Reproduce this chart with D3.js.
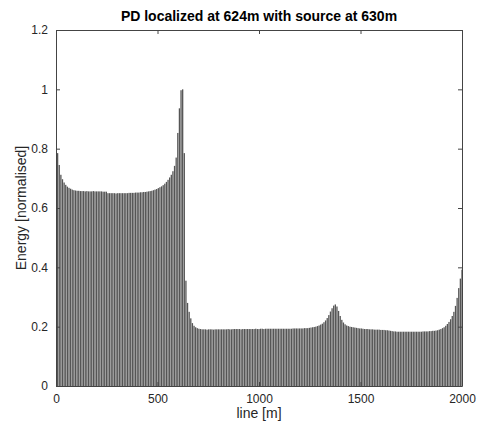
<!DOCTYPE html>
<html>
<head>
<meta charset="utf-8">
<script src="https://cdn.jsdelivr.net/npm/d3@7"></script>
<style>
  html, body { margin: 0; padding: 0; background: #fff; }
  svg { display: block; font-family: "Liberation Sans", Arial, Helvetica, sans-serif; }
</style>
</head>
<body>
<svg id="chart" width="485" height="428"></svg>
<script>
// Line positions are sampled every 8 m, starting at 8 m and ending at 2000 m.
const firstPosition = 8;
const positionStep = 8;

// Normalised energy for each position along the line.
const energy = [
  0.785, 0.745, 0.712, 0.697, 0.686, 0.678, 0.672, 0.668, 0.665, 0.662,
  0.660, 0.659, 0.658, 0.658, 0.657, 0.657, 0.657, 0.656, 0.657, 0.656,
  0.656, 0.656, 0.657, 0.656, 0.656, 0.656, 0.656, 0.656, 0.655, 0.655,
  0.655, 0.650, 0.650, 0.650, 0.650, 0.650, 0.649, 0.650, 0.650, 0.650,
  0.650, 0.650, 0.650, 0.650, 0.651, 0.651, 0.651, 0.651, 0.652, 0.652,
  0.652, 0.653, 0.653, 0.654, 0.654, 0.655, 0.656, 0.657, 0.658, 0.660,
  0.662, 0.664, 0.667, 0.670, 0.673, 0.677, 0.682, 0.688, 0.695, 0.703,
  0.712, 0.724, 0.742, 0.770, 0.853, 0.936, 0.997, 1.000, 0.785, 0.355,
  0.280, 0.250, 0.228, 0.212, 0.203, 0.198, 0.195, 0.193, 0.192, 0.191,
  0.191, 0.191, 0.190, 0.191, 0.191, 0.191, 0.190, 0.191, 0.191, 0.191,
  0.191, 0.191, 0.191, 0.191, 0.191, 0.192, 0.191, 0.191, 0.192, 0.192,
  0.192, 0.192, 0.192, 0.191, 0.192, 0.192, 0.192, 0.192, 0.192, 0.192,
  0.192, 0.192, 0.193, 0.192, 0.192, 0.193, 0.193, 0.192, 0.193, 0.193,
  0.193, 0.193, 0.193, 0.193, 0.193, 0.193, 0.193, 0.193, 0.193, 0.193,
  0.193, 0.193, 0.193, 0.193, 0.193, 0.194, 0.194, 0.194, 0.194, 0.194,
  0.194, 0.194, 0.195, 0.195, 0.195, 0.196, 0.197, 0.198, 0.199, 0.200,
  0.202, 0.204, 0.207, 0.210, 0.215, 0.221, 0.229, 0.239, 0.251, 0.262,
  0.271, 0.275, 0.268, 0.253, 0.236, 0.223, 0.214, 0.208, 0.204, 0.202,
  0.200, 0.199, 0.198, 0.197, 0.196, 0.195, 0.194, 0.194, 0.193, 0.192,
  0.192, 0.192, 0.191, 0.191, 0.191, 0.190, 0.190, 0.190, 0.190, 0.189,
  0.189, 0.189, 0.188, 0.188, 0.187, 0.186, 0.185, 0.184, 0.184, 0.183,
  0.183, 0.183, 0.183, 0.183, 0.183, 0.183, 0.183, 0.183, 0.183, 0.183,
  0.183, 0.183, 0.183, 0.183, 0.183, 0.184, 0.184, 0.184, 0.184, 0.185,
  0.185, 0.186, 0.186, 0.187, 0.188, 0.190, 0.192, 0.195, 0.198, 0.203,
  0.209, 0.216, 0.225, 0.236, 0.250, 0.270, 0.297, 0.330, 0.362, 0.392
];

const xTicks = [0, 500, 1000, 1500, 2000];
const yTicks = [0, 0.2, 0.4, 0.6, 0.8, 1, 1.2];

const titleText = "PD localized at 624m with source at 630m";
const xLabelText = "line [m]";
const yLabelText = "Energy [normalised]";

const bars = energy.map((v, i) => ({ pos: firstPosition + i * positionStep, value: v }));

const plot = { left: 56, right: 462, top: 30, bottom: 386 };
const axisColor = "#444";
const textColor = "#262626";

const svg = d3.select("#chart");

const x = d3.scaleLinear().domain([0, 2000]).range([plot.left, plot.right]);
const y = d3.scaleLinear().domain([0, 1.2]).range([plot.bottom, plot.top]);

svg.append("defs").append("clipPath").attr("id", "plot-clip")
  .append("rect")
  .attr("x", plot.left).attr("y", plot.top)
  .attr("width", plot.right - plot.left).attr("height", plot.bottom - plot.top);

// Bars: 80% of the sample spacing, centred on each position.
const barWidth = (x(positionStep) - x(0)) * 0.8;
svg.append("g")
  .attr("clip-path", "url(#plot-clip)")
  .selectAll("rect")
  .data(bars)
  .join("rect")
  .attr("x", d => x(d.pos) - barWidth / 2)
  .attr("width", barWidth)
  .attr("y", d => y(d.value))
  .attr("height", d => y(0) - y(d.value))
  .attr("fill", "#555");

// Axes with inward ticks on all four sides (boxed plot).
const tickLen = 4;
const fmtY = d => d3.format("~g")(d);

const bottomAxis = d3.axisBottom(x).tickValues(xTicks).tickSizeInner(-tickLen).tickSizeOuter(0).tickPadding(8).tickFormat(d3.format("d"));
const topAxis = d3.axisTop(x).tickValues(xTicks).tickSizeInner(-tickLen).tickSizeOuter(0).tickFormat("");
const leftAxis = d3.axisLeft(y).tickValues(yTicks).tickSizeInner(-tickLen).tickSizeOuter(0).tickPadding(8).tickFormat(fmtY);
const rightAxis = d3.axisRight(y).tickValues(yTicks).tickSizeInner(-tickLen).tickSizeOuter(0).tickFormat("");

function styleAxis(g) {
  g.select(".domain").attr("stroke", axisColor).attr("stroke-width", 1);
  g.selectAll(".tick line").attr("stroke", axisColor).attr("stroke-width", 1);
  g.selectAll(".tick text")
    .attr("fill", textColor)
    .attr("font-size", 12)
    .attr("font-family", "Liberation Sans, Arial, sans-serif");
}

svg.append("g").attr("transform", `translate(0,${plot.bottom})`).call(bottomAxis).call(styleAxis);
svg.append("g").attr("transform", `translate(0,${plot.top})`).call(topAxis).call(styleAxis);
svg.append("g").attr("transform", `translate(${plot.left},0)`).call(leftAxis).call(styleAxis);
svg.append("g").attr("transform", `translate(${plot.right},0)`).call(rightAxis).call(styleAxis);

// Title and axis labels.
svg.append("text")
  .attr("x", (plot.left + plot.right) / 2)
  .attr("y", 21)
  .attr("text-anchor", "middle")
  .attr("font-size", 14)
  .attr("font-weight", "bold")
  .attr("fill", "#000")
  .text(titleText);

svg.append("text")
  .attr("x", (plot.left + plot.right) / 2)
  .attr("y", 418)
  .attr("text-anchor", "middle")
  .attr("font-size", 14)
  .attr("fill", textColor)
  .text(xLabelText);

svg.append("text")
  .attr("transform", `translate(26,${(plot.top + plot.bottom) / 2}) rotate(-90)`)
  .attr("text-anchor", "middle")
  .attr("font-size", 14)
  .attr("fill", textColor)
  .text(yLabelText);
</script>
</body>
</html>
